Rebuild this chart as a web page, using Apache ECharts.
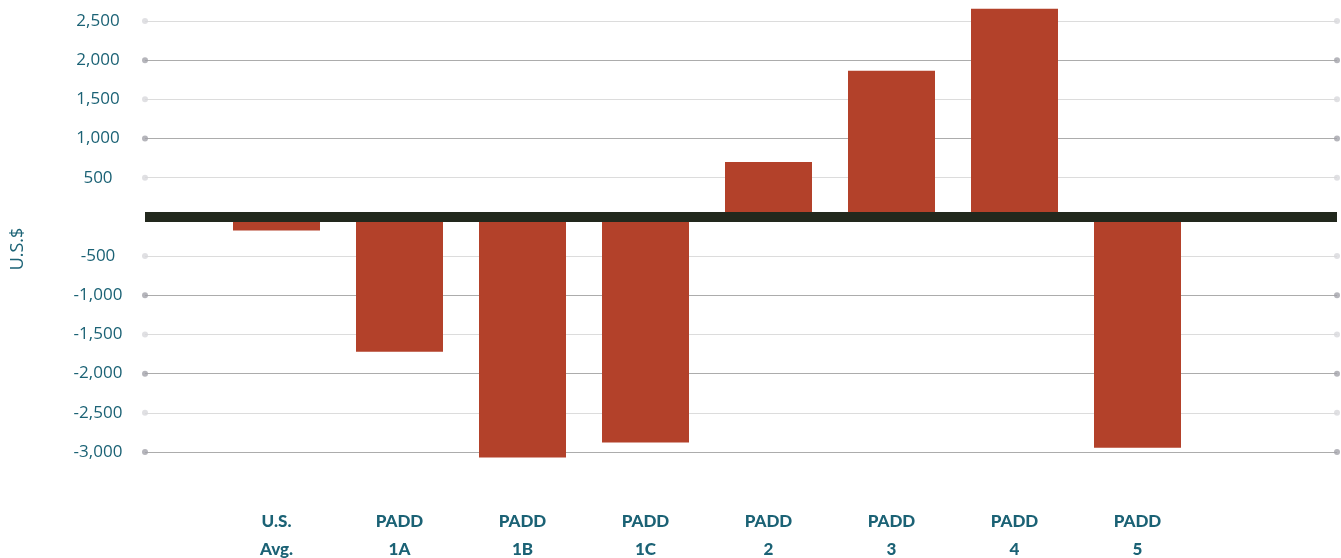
<!DOCTYPE html>
<html>
<head>
<meta charset="utf-8">
<script src="https://cdn.jsdelivr.net/npm/echarts@6/dist/echarts.min.js"></script>
<style>
  html, body { margin: 0; padding: 0; background: #ffffff; }
  #chart { width: 1341px; height: 558px; }
</style>
</head>
<body>
<div id="chart"></div>
<script>
// Regional differences in U.S.$ by PADD region
const categories = ['U.S.\nAvg.', 'PADD\n1A', 'PADD\n1B', 'PADD\n1C', 'PADD\n2', 'PADD\n3', 'PADD\n4', 'PADD\n5'];
const values = [-175, -1720, -3070, -2880, 700, 1865, 2655, -2945];
const yTicks = [-3000, -2500, -2000, -1500, -1000, -500, 0, 500, 1000, 1500, 2000, 2500];
// the zero line is drawn as a heavy bar, so it gets no end dots
const majorTicks = yTicks.filter(t => t !== 0 && t % 1000 === 0);
const minorTicks = yTicks.filter(t => t % 1000 !== 0);

const teal = '#1b6275';
const yMin = yTicks[0];
const yMax = yTicks[yTicks.length - 1];

function fmt(v) {
  if (v === 0) return '';
  const s = Math.abs(v).toString().replace(/\B(?=(\d{3})+(?!\d))/g, ',');
  return (v < 0 ? '-' : '') + s;
}

// grid lines end in small dots on both sides
function dotData(ticks) {
  const out = [];
  ticks.forEach(t => { out.push([0, t]); out.push([1, t]); });
  return out;
}

const chart = echarts.init(document.getElementById('chart'), null, { renderer: 'canvas' });

chart.setOption({
  animation: false,
  backgroundColor: '#ffffff',
  grid: [
    { left: 215, right: 142, top: 21, bottom: 106, outerBoundsMode: 'none', containLabel: false },
    { left: 145, right: 4, top: 21, bottom: 106, outerBoundsMode: 'none', containLabel: false }
  ],
  xAxis: [
    {
      type: 'category',
      gridIndex: 0,
      data: categories,
      axisLine: { show: false, onZero: false },
      axisTick: { show: false },
      splitLine: { show: false },
      axisLabel: {
        margin: 56,
        color: teal,
        fontFamily: 'Lato',
        fontWeight: 900,
        fontSize: 17,
        lineHeight: 28,
        interval: 0
      }
    },
    {
      type: 'value',
      gridIndex: 1,
      min: 0,
      max: 1,
      z: 10,
      axisLine: { show: true, onZero: true, lineStyle: { color: '#22281d', width: 10, cap: 'butt' } },
      axisTick: { show: false },
      axisLabel: { show: false },
      splitLine: { show: false }
    }
  ],
  yAxis: [
    {
      type: 'value',
      gridIndex: 0,
      min: yMin,
      max: yMax,
      interval: 500,
      show: false
    },
    {
      type: 'value',
      gridIndex: 1,
      min: yMin,
      max: yMax,
      interval: 500,
      axisLine: { show: false },
      axisTick: { show: false },
      axisLabel: {
        margin: 47,
        align: 'center',
        color: teal,
        fontFamily: 'Open Sans',
        fontSize: 17,
        formatter: fmt
      },
      splitLine: {
        show: true,
        lineStyle: { color: ['#acacac', '#dcdcdc'], width: 1 }
      }
    }
  ],
  graphic: [
    {
      type: 'text',
      x: 18,
      y: 249,
      rotation: Math.PI / 2,
      style: {
        text: 'U.S.$',
        fill: teal,
        font: '18px "Open Sans"',
        align: 'center',
        verticalAlign: 'middle'
      }
    }
  ],
  series: [
    {
      type: 'bar',
      xAxisIndex: 0,
      yAxisIndex: 0,
      data: values,
      barWidth: 87,
      clip: false,
      itemStyle: { color: '#b3412a' }
    },
    {
      type: 'scatter',
      xAxisIndex: 1,
      yAxisIndex: 1,
      data: dotData(majorTicks),
      symbolSize: 6,
      itemStyle: { color: '#a3a3aa' },
      silent: true
    },
    {
      type: 'scatter',
      xAxisIndex: 1,
      yAxisIndex: 1,
      data: dotData(minorTicks),
      symbolSize: 6,
      itemStyle: { color: '#d8d8dc' },
      silent: true
    }
  ]
});
</script>
</body>
</html>
